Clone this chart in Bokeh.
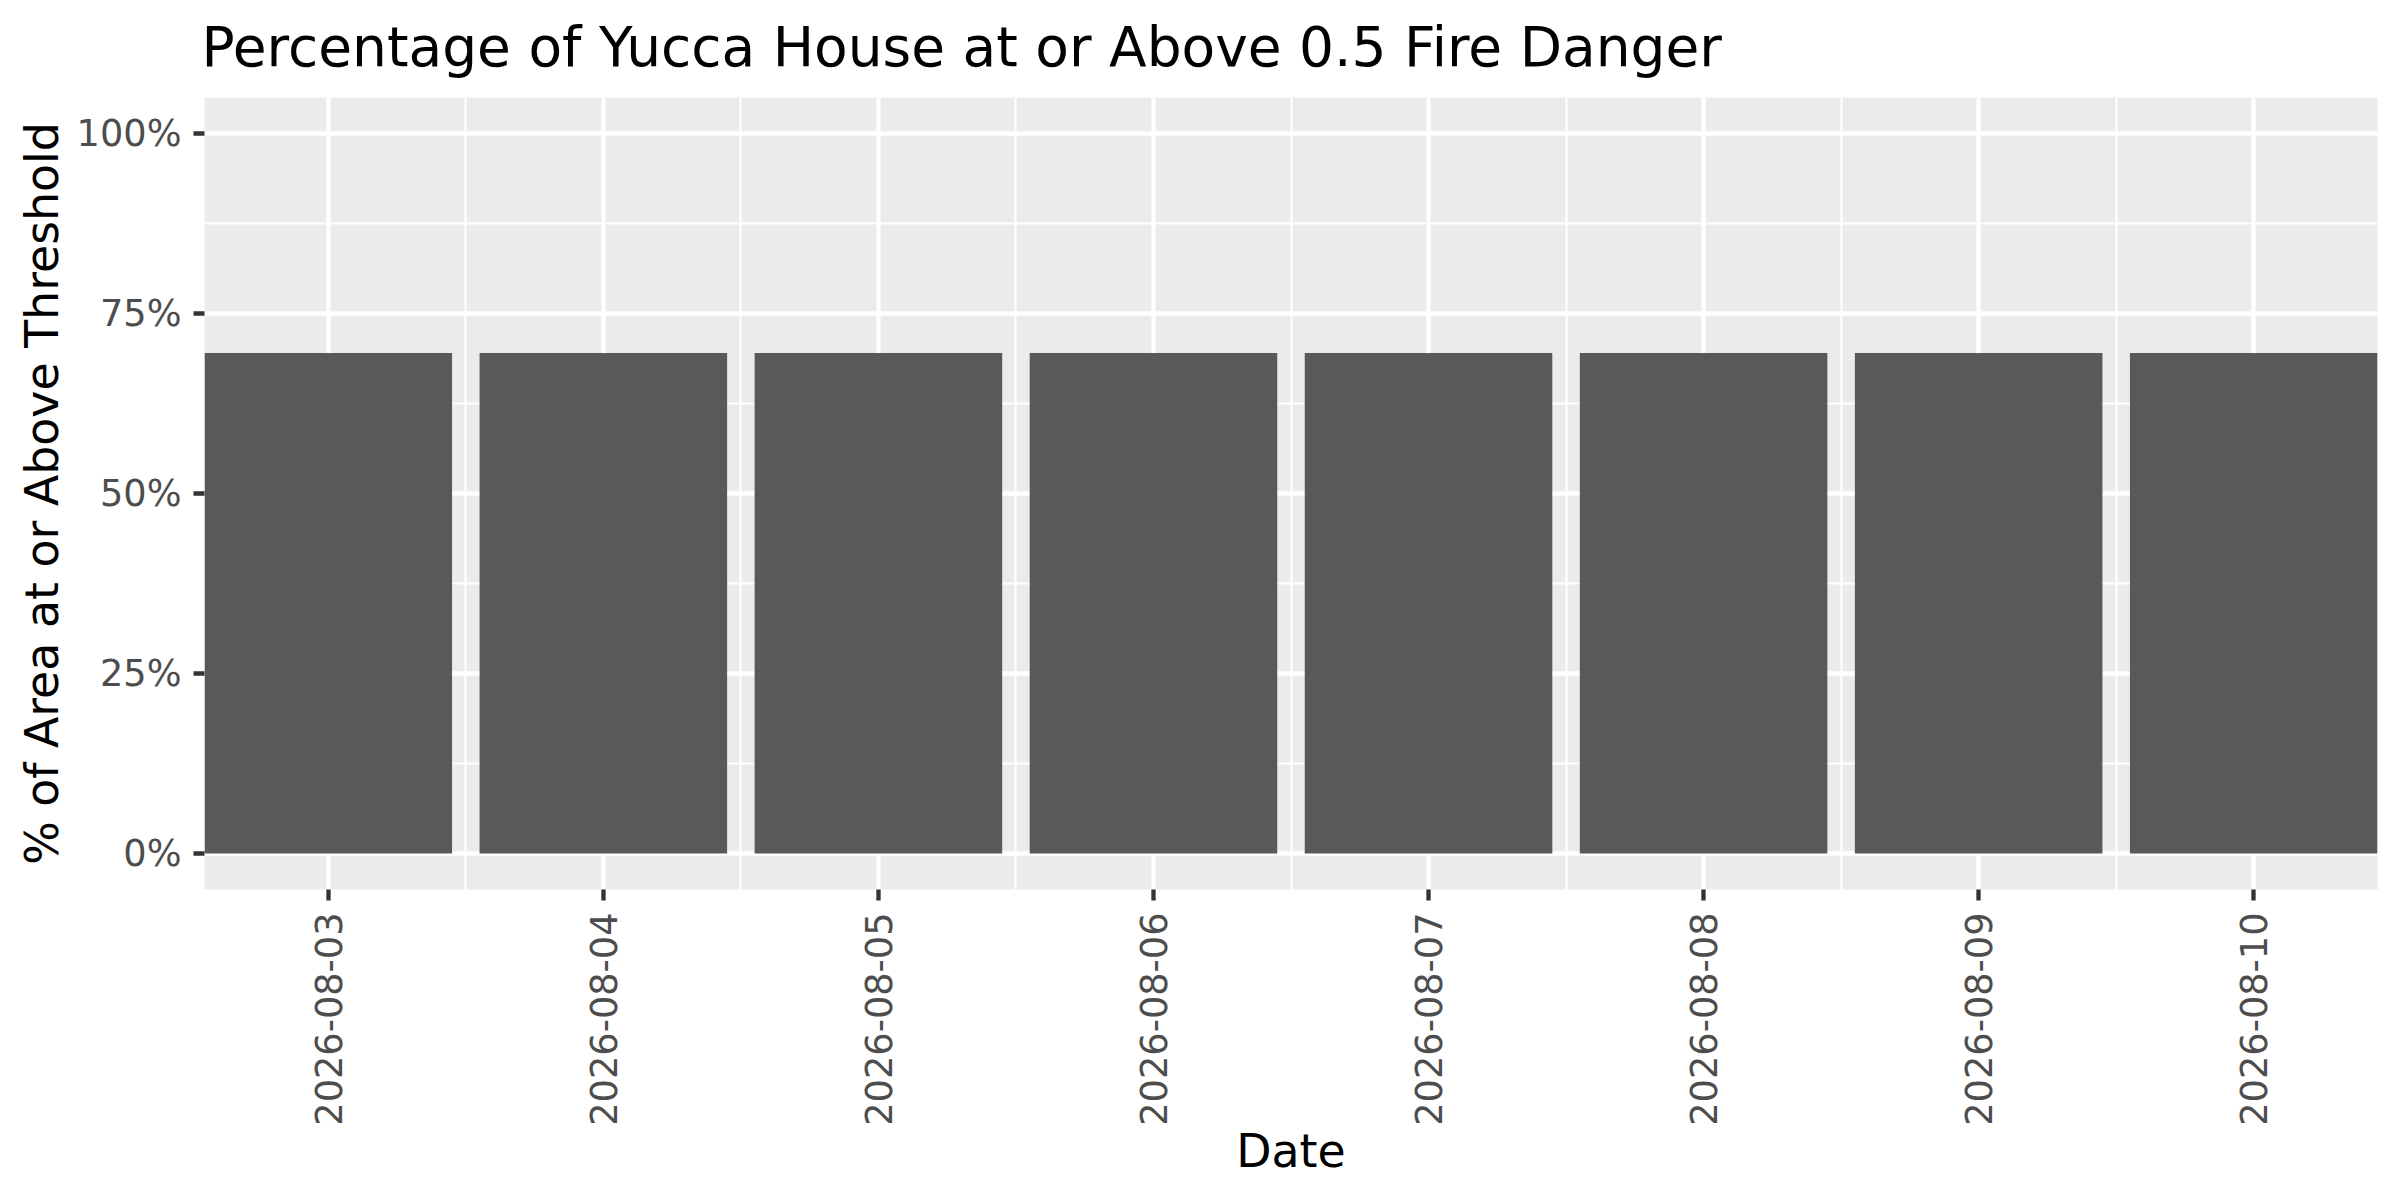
from bokeh.plotting import figure
from bokeh.models import Range1d, FixedTicker, NumeralTickFormatter, Label
from bokeh.embed import file_html
from bokeh.resources import INLINE
import math

# ---- data ----
dates = ["2026-08-03", "2026-08-04", "2026-08-05", "2026-08-06",
         "2026-08-07", "2026-08-08", "2026-08-09", "2026-08-10"]
pct_above = [0.695, 0.695, 0.695, 0.695, 0.695, 0.695, 0.695, 0.695]
y_ticks = [0.0, 0.25, 0.5, 0.75, 1.0]
title_text = "Percentage of Yucca House at or Above 0.5 Fire Danger"
x_label = "Date"
y_label = "% of Area at or Above Threshold"

xpos = list(range(1, len(dates) + 1))
bar_width = 0.9

FONT = "DejaVu Sans"
W, H = 2384, 1184
B_LEFT, B_RIGHT, B_TOP, B_BOTTOM = 204, 7, 97, 295

p = figure(width=W, height=H, output_backend="svg", toolbar_location=None,
           x_range=Range1d(1 - bar_width / 2, len(dates) + bar_width / 2),
           y_range=Range1d(-0.05, 1.05),
           min_border_left=B_LEFT, min_border_right=B_RIGHT,
           min_border_top=B_TOP, min_border_bottom=B_BOTTOM)

p.background_fill_color = "#EBEBEB"
p.border_fill_color = "white"
p.outline_line_color = None

p.vbar(x=xpos, top=pct_above, bottom=0, width=bar_width,
       fill_color="#595959", line_color=None)

# title as a label in the panel above the plot
title = Label(x=-3, y=51, x_units="screen", y_units="screen",
              text=title_text, text_font=FONT, text_font_size="55px",
              text_color="black", text_align="left", text_baseline="alphabetic")
p.add_layout(title, "above")

# x axis
xmin = [x + 0.5 for x in xpos[:-1]]
p.xaxis.ticker = FixedTicker(ticks=xpos, minor_ticks=xmin)
p.xaxis.major_label_overrides = {x: d for x, d in zip(xpos, dates)}
p.xaxis.major_label_orientation = math.pi / 2
p.xaxis.axis_label = x_label
# y axis
yminor = [t + 0.125 for t in y_ticks[:-1]]
p.yaxis.ticker = FixedTicker(ticks=y_ticks, minor_ticks=yminor)
p.yaxis.formatter = NumeralTickFormatter(format="0%")
p.yaxis.axis_label = y_label

for ax in (p.xaxis[0], p.yaxis[0]):
    ax.axis_line_color = None
    ax.major_tick_line_color = "#333333"
    ax.major_tick_line_width = 4.3
    ax.major_tick_out = 11
    ax.major_tick_in = 0
    ax.minor_tick_out = 0
    ax.minor_tick_in = 0
    ax.minor_tick_line_color = None
    ax.major_label_text_font = FONT
    ax.major_label_text_font_size = "36.7px"
    ax.major_label_text_color = "#4D4D4D"
    ax.major_label_standoff = 12
    ax.axis_label_text_font = FONT
    ax.axis_label_text_font_size = "45.8px"
    ax.axis_label_text_font_style = "normal"
    ax.axis_label_text_color = "black"

p.xaxis[0].axis_label_standoff = -5
p.xaxis[0].axis_label_text_line_height = 1.0
p.yaxis[0].axis_label_standoff = 5

for g in (p.xgrid[0], p.ygrid[0]):
    g.grid_line_color = "white"
    g.grid_line_width = 4.3
    g.minor_grid_line_color = "white"
    g.minor_grid_line_width = 2.1

open("out.html", "w").write(file_html(p, INLINE))
